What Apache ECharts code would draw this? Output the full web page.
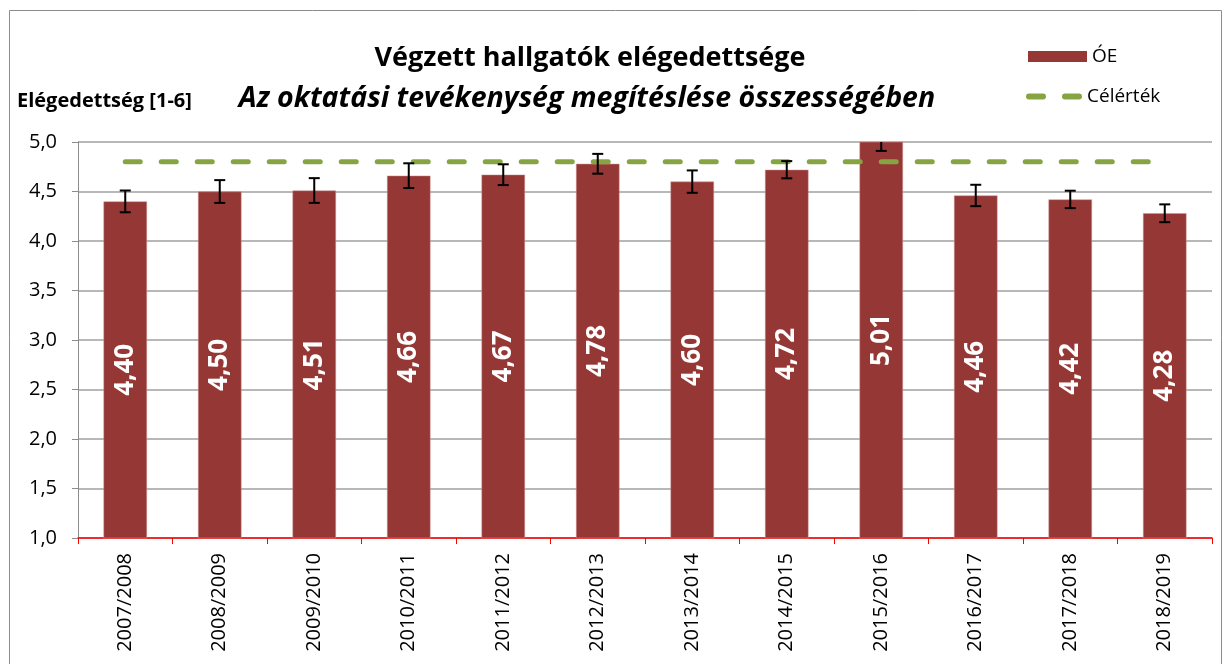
<!DOCTYPE html>
<html>
<head>
<meta charset="utf-8">
<title>Végzett hallgatók elégedettsége</title>
<script src="https://cdn.jsdelivr.net/npm/echarts@6/dist/echarts.min.js"></script>
<style>
  html, body { margin: 0; padding: 0; background: #fff; }
  #chart { width: 1223px; height: 664px; }
</style>
</head>
<body>
<div id="chart"></div>
<script>
// tanévek
const years = ['2007/2008', '2008/2009', '2009/2010', '2010/2011', '2011/2012', '2012/2013',
  '2013/2014', '2014/2015', '2015/2016', '2016/2017', '2017/2018', '2018/2019'];
// ÓE átlag
const scores = [4.40, 4.50, 4.51, 4.66, 4.67, 4.78, 4.60, 4.72, 5.01, 4.46, 4.42, 4.28];
// hibasáv (+/-), leolvasva
const errors = [0.11, 0.115, 0.125, 0.125, 0.105, 0.10, 0.113, 0.087, 0.10, 0.108, 0.088, 0.09];
// célérték
const target = [4.8, 4.8, 4.8, 4.8, 4.8, 4.8, 4.8, 4.8, 4.8, 4.8, 4.8, 4.8];

const FONT = '"Open Sans", "Noto Sans", sans-serif';
const GREEN = '#86a542';
const comma = (v, d) => v.toFixed(d).replace('.', ',');

const errData = years.map((y, i) => [i, scores[i] - errors[i], scores[i] + errors[i]]);

const chart = echarts.init(document.getElementById('chart'));

chart.setOption({
  animation: false,
  textStyle: { fontFamily: FONT },
  title: [
    {
      text: 'Végzett hallgatók elégedettsége',
      left: 585, top: 40, textAlign: 'center',
      textStyle: { fontSize: 27, fontWeight: 'bold', color: '#000', fontFamily: FONT }
    },
    {
      text: 'Az oktatási tevékenység megítéslése összességében',
      left: 582, top: 79, textAlign: 'center',
      textStyle: { fontSize: 28.5, fontWeight: 'bold', fontStyle: 'italic', color: '#000', fontFamily: FONT }
    },
    {
      text: 'Elégedettség [1-6]',
      left: 12, top: 86,
      textStyle: { fontSize: 20, fontWeight: 'bold', color: '#000', fontFamily: FONT }
    }
  ],
  legend: [
    {
      left: 1023, top: 42,
      itemWidth: 59, itemHeight: 11, itemGap: 6,
      itemStyle: { borderWidth: 0 },
      textStyle: { fontSize: 19, color: '#000', fontFamily: FONT },
      data: [{ name: 'ÓE', icon: 'rect' }]
    },
    {
      left: 1021, top: 82,
      itemWidth: 56, itemHeight: 6, itemGap: 6,
      textStyle: { fontSize: 19, color: '#000', fontFamily: FONT },
      data: [{ name: 'Célérték', icon: 'path://M3,0h14a3,3 0 0 1 0,6h-14a3,3 0 0 1 0,-6zM39,0h14a3,3 0 0 1 0,6h-14a3,3 0 0 1 0,-6z' }]
    }
  ],
  graphic: [
    {
      type: 'rect', silent: true, z: -10,
      shape: { x: 9.5, y: 10.5, width: 1212, height: 700 },
      style: { fill: 'none', stroke: '#8c8c8c', lineWidth: 1 }
    }
  ],
  grid: { left: 78, right: 11, top: 142, bottom: 126 },
  xAxis: {
    type: 'category',
    data: years,
    boundaryGap: true,
    axisLine: { lineStyle: { color: '#ff0000', width: 1.5 } },
    axisTick: { show: true, length: 6, inside: false, lineStyle: { color: '#ff0000' } },
    axisLabel: { rotate: 90, fontSize: 20, color: '#000', margin: 15, fontFamily: FONT }
  },
  yAxis: {
    type: 'value',
    min: 1, max: 5, interval: 0.5,
    axisLine: { show: true, lineStyle: { color: '#8c8c8c' } },
    axisTick: { show: true, length: 6, lineStyle: { color: '#8c8c8c' } },
    axisLabel: { fontSize: 20, color: '#000', margin: 21, formatter: v => comma(v, 1), fontFamily: FONT },
    splitLine: { lineStyle: { color: '#a0a0a0', width: 1.5 } }
  },
  series: [
    {
      name: 'ÓE',
      type: 'bar',
      data: scores,
      barWidth: '46%',
      clip: true,
      itemStyle: { color: '#953735', borderColor: '#c99', borderWidth: 0.5 },
      label: {
        show: true,
        position: 'inside',
        rotate: 90,
        color: '#fff',
        fontSize: 26,
        fontWeight: 'bold',
        fontFamily: FONT,
        formatter: p => comma(p.value, 2)
      },
      z: 2
    },
    {
      name: 'hiba',
      type: 'custom',
      clip: true,
      data: errData,
      z: 4,
      renderItem: (params, api) => {
        const x = api.value(0);
        const lo = api.coord([x, api.value(1)]);
        const hi = api.coord([x, api.value(2)]);
        const cap = 5.5;
        const st = { stroke: '#000', lineWidth: 2 };
        return {
          type: 'group',
          children: [
            { type: 'line', shape: { x1: lo[0], y1: lo[1], x2: hi[0], y2: hi[1] }, style: st },
            { type: 'line', shape: { x1: lo[0] - cap, y1: lo[1], x2: lo[0] + cap, y2: lo[1] }, style: st },
            { type: 'line', shape: { x1: hi[0] - cap, y1: hi[1], x2: hi[0] + cap, y2: hi[1] }, style: st }
          ]
        };
      }
    },
    {
      name: 'Célérték',
      type: 'line',
      data: target,
      symbol: 'none',
      z: 3,
      lineStyle: { color: GREEN, width: 5, type: [15, 21], cap: 'round' },
      itemStyle: { color: GREEN }
    }
  ]
});
</script>
</body>
</html>
